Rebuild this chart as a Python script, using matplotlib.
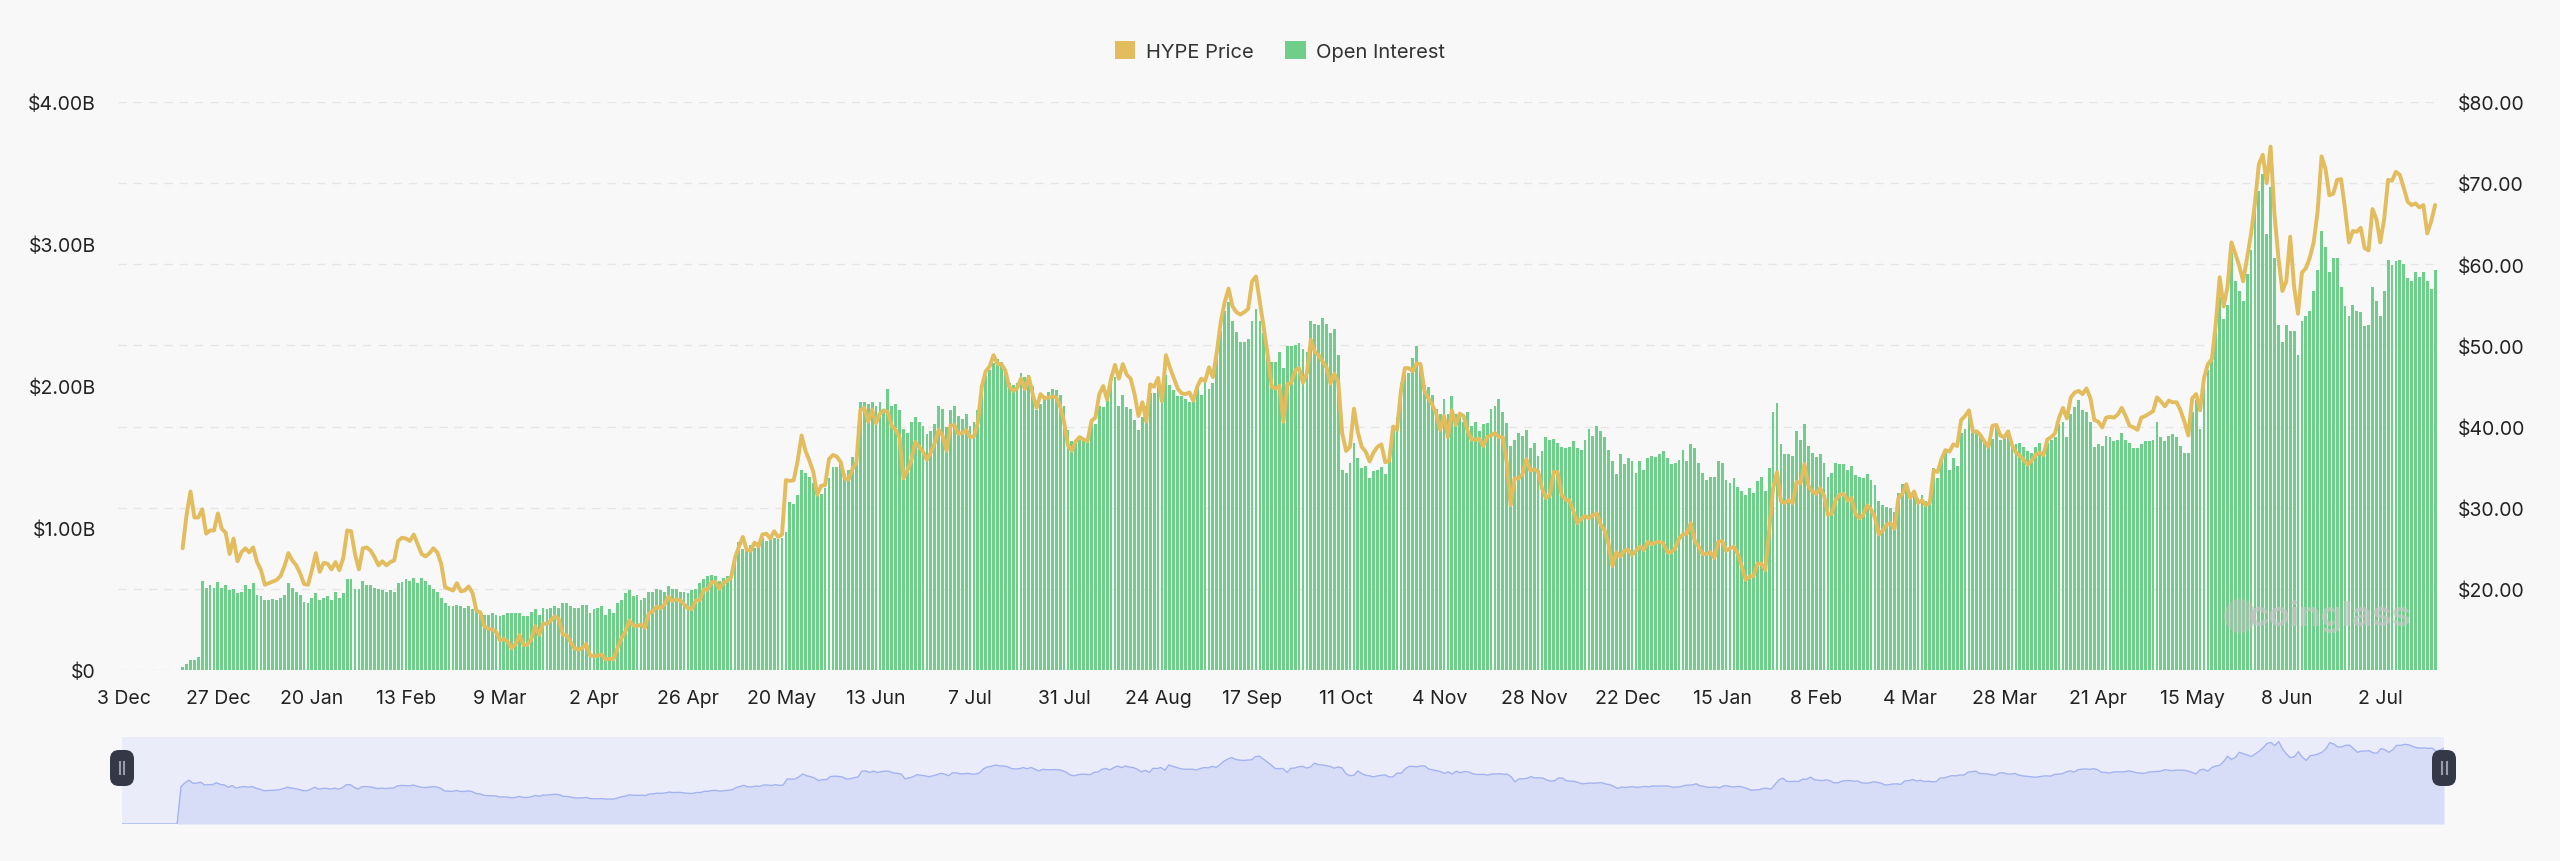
import numpy as np
import pandas as pd
import matplotlib
matplotlib.use("Agg")
import matplotlib.pyplot as plt
from matplotlib.patches import FancyBboxPatch, Patch, Ellipse

plt.rcParams["font.family"] = ["Inter", "DejaVu Sans"]

# --- data (daily) ---
first_day = "2024-12-03"
n_days = 591
data_start = 15  # first day with data: 18 Dec

# open interest, billions USD
open_interest = [
    0.02, 0.04, 0.07, 0.07, 0.09,
    0.63, 0.58, 0.60, 0.58, 0.62, 0.58, 0.60, 0.56, 0.57, 0.54,
    0.55, 0.60, 0.57, 0.61, 0.53, 0.52, 0.49, 0.49, 0.50, 0.49,
    0.51, 0.53, 0.61, 0.58, 0.55, 0.53, 0.48, 0.47, 0.51, 0.54,
    0.49, 0.51, 0.52, 0.49, 0.55, 0.51, 0.54, 0.64, 0.64, 0.57,
    0.57, 0.63, 0.60, 0.60, 0.58, 0.57, 0.56, 0.55, 0.56, 0.55,
    0.61, 0.62, 0.64, 0.63, 0.65, 0.61, 0.65, 0.63, 0.60, 0.57,
    0.55, 0.51, 0.47, 0.45, 0.45, 0.46, 0.45, 0.44, 0.45, 0.43,
    0.42, 0.40, 0.39, 0.39, 0.40, 0.39, 0.38, 0.39,
    0.40, 0.40, 0.40, 0.40, 0.38, 0.38, 0.41, 0.43, 0.39, 0.44,
    0.43, 0.44, 0.45, 0.44, 0.47, 0.47, 0.45, 0.44, 0.44, 0.46,
    0.46, 0.40, 0.43, 0.44, 0.45, 0.39, 0.43, 0.40, 0.47, 0.49,
    0.54, 0.56, 0.52, 0.53, 0.49, 0.51, 0.55, 0.55, 0.57, 0.56,
    0.55, 0.59, 0.57, 0.57, 0.55, 0.55, 0.54, 0.56, 0.57, 0.61,
    0.64, 0.66, 0.67, 0.66, 0.63, 0.65, 0.66, 0.68, 0.80, 0.90,
    0.85, 0.86, 0.88, 0.86, 0.90, 0.93, 0.91, 0.94, 0.93, 0.92,
    0.93, 0.97, 1.18, 1.17, 1.23, 1.41, 1.39, 1.36, 1.32, 1.23,
    1.24, 1.28, 1.35, 1.43, 1.43, 1.45, 1.38, 1.41, 1.50, 1.50,
    1.89, 1.89, 1.87, 1.89, 1.86, 1.89, 1.84, 1.98, 1.86, 1.87,
    1.83, 1.70, 1.67, 1.75, 1.78, 1.75, 1.72, 1.66, 1.68, 1.73,
    1.86, 1.84, 1.71, 1.83, 1.86, 1.79, 1.77, 1.80, 1.72, 1.75,
    1.83, 2.01, 2.07, 2.11, 2.16, 2.19, 2.17, 2.12, 2.02, 2.01,
    2.02, 2.09, 2.06, 2.08, 2.00, 1.83, 1.87, 1.93, 1.96, 1.98,
    1.97, 1.94, 1.86, 1.69, 1.61, 1.62, 1.62, 1.62, 1.61, 1.76,
    1.73, 1.86, 1.85, 1.94, 2.06, 2.06, 1.86, 1.94, 1.85, 1.84,
    1.76, 1.69, 1.78, 1.86, 1.95, 1.95, 2.00, 1.88, 2.08, 2.01,
    1.97, 1.93, 1.93, 1.91, 1.89, 1.93, 1.99, 1.94, 2.05, 1.98,
    2.02, 2.22, 2.39, 2.53, 2.59, 2.46, 2.38, 2.31, 2.31, 2.33,
    2.46, 2.54, 2.46, 2.37, 2.22, 2.17, 2.17, 2.24, 2.13, 2.28,
    2.28, 2.29, 2.30, 2.26, 2.24, 2.46, 2.44, 2.43, 2.48, 2.44,
    2.37, 2.40, 2.22, 1.41, 1.39, 1.46, 1.60, 1.49, 1.42, 1.44,
    1.35, 1.40, 1.41, 1.43, 1.38, 1.47, 1.72, 1.78, 2.02, 2.08,
    2.09, 2.20, 2.28, 2.14, 2.01, 1.99, 1.94, 1.84, 1.80, 1.91,
    1.80, 1.93, 1.80, 1.78, 1.75, 1.82, 1.72, 1.75, 1.68, 1.73,
    1.74, 1.84, 1.86, 1.91, 1.82, 1.74, 1.58, 1.62, 1.67, 1.65,
    1.69, 1.56, 1.60, 1.51, 1.54, 1.64, 1.62, 1.63, 1.60, 1.57,
    1.56, 1.57, 1.61, 1.56, 1.55, 1.62, 1.70, 1.65, 1.72, 1.68,
    1.64, 1.55, 1.47, 1.38, 1.52, 1.45, 1.49, 1.47, 1.39, 1.47,
    1.41, 1.49, 1.51, 1.50, 1.52, 1.54, 1.49, 1.45, 1.46, 1.48,
    1.55, 1.47, 1.59, 1.56, 1.46, 1.39, 1.34, 1.36, 1.36, 1.47,
    1.46, 1.34, 1.32, 1.35, 1.29, 1.26, 1.23, 1.28, 1.25, 1.33,
    1.36, 1.26, 1.42, 1.82, 1.88, 1.59, 1.52, 1.52, 1.51, 1.68,
    1.62, 1.73, 1.58, 1.53, 1.50, 1.52, 1.46, 1.36, 1.39, 1.46,
    1.45, 1.45, 1.41, 1.44, 1.37, 1.36, 1.35, 1.38, 1.34, 1.30,
    1.19, 1.16, 1.15, 1.14, 1.11, 1.25, 1.31, 1.31, 1.24, 1.25,
    1.21, 1.23, 1.19, 1.20, 1.42, 1.35, 1.47, 1.53, 1.41, 1.49,
    1.44, 1.67, 1.70, 1.78, 1.67, 1.67, 1.65, 1.61, 1.56, 1.63,
    1.72, 1.62, 1.64, 1.69, 1.61, 1.59, 1.60, 1.57, 1.54, 1.53,
    1.57, 1.60, 1.54, 1.60, 1.62, 1.64, 1.73, 1.75, 1.64, 1.80,
    1.85, 1.90, 1.83, 1.82, 1.75, 1.57, 1.59, 1.58, 1.65, 1.64,
    1.61, 1.62, 1.67, 1.62, 1.60, 1.56, 1.56, 1.59, 1.61, 1.61,
    1.62, 1.75, 1.64, 1.61, 1.65, 1.66, 1.64, 1.58, 1.53, 1.53,
    1.82, 1.90, 1.70, 2.00, 2.11, 2.19, 2.41, 2.63, 2.47, 2.57,
    2.94, 2.74, 2.67, 2.60, 2.79, 2.96, 3.23, 3.37, 3.49, 3.07,
    3.40, 2.90, 2.43, 2.31, 2.43, 2.39, 2.39, 2.22, 2.46, 2.49,
    2.53, 2.67, 2.82, 3.09, 2.98, 2.80, 2.90, 2.90, 2.70, 2.56,
    2.49, 2.57, 2.53, 2.52, 2.42, 2.43, 2.70, 2.60, 2.49, 2.67,
    2.89, 2.85, 2.88, 2.89, 2.86, 2.76, 2.74, 2.80, 2.77, 2.80,
    2.74, 2.68, 2.82,
]

# HYPE price, USD
hype_price = [
    25.0, 29.1, 32.0, 28.8, 28.8,
    29.8, 26.8, 27.2, 27.2, 29.3, 27.4, 26.9, 24.3, 26.2, 23.4,
    24.5, 25.0, 24.5, 25.1, 23.3, 22.3, 20.5, 20.7, 20.9, 21.1,
    21.6, 22.8, 24.4, 23.5, 22.9, 21.9, 20.6, 20.5, 22.3, 24.4,
    22.1, 23.2, 23.1, 22.4, 23.3, 22.3, 23.8, 27.2, 27.1, 24.3,
    22.4, 25.0, 25.1, 24.7, 23.9, 22.9, 23.4, 22.9, 23.3, 23.5,
    25.9, 26.3, 26.2, 25.9, 26.7, 25.5, 24.3, 24.0, 24.4, 25.0,
    24.5, 23.1, 20.2, 20.0, 19.8, 20.7, 19.7, 19.8, 20.3, 19.5,
    17.3, 17.1, 15.4, 15.1, 15.0, 14.7, 13.7, 13.8,
    13.5, 12.7, 13.2, 14.3, 13.1, 13.1, 13.8, 15.4, 14.3, 15.7,
    15.7, 16.1, 16.6, 16.3, 14.4, 14.3, 13.5, 12.7, 12.5, 12.7,
    13.2, 11.8, 11.7, 11.8, 11.9, 11.3, 11.4, 11.3, 12.7, 13.9,
    14.7, 16.1, 15.5, 15.4, 15.6, 15.2, 17.0, 17.2, 17.8, 17.6,
    18.1, 19.0, 18.5, 18.7, 18.6, 18.1, 17.6, 17.5, 18.6, 18.6,
    19.9, 19.9, 20.8, 20.9, 20.0, 20.7, 21.0, 21.4, 23.8, 25.2,
    26.4, 24.8, 24.7, 25.7, 25.2, 26.7, 26.8, 26.2, 27.1, 26.4,
    26.7, 33.4, 33.3, 33.4, 35.8, 38.9, 37.0, 35.8, 34.4, 31.6,
    32.7, 32.8, 36.0, 36.5, 36.3, 35.6, 33.6, 33.5, 34.8, 35.6,
    42.0, 42.3, 40.6, 42.1, 40.4, 41.6, 42.0, 41.8, 40.1, 39.6,
    38.7, 33.6, 34.6, 35.8, 38.1, 37.5, 36.9, 35.9, 36.8, 38.0,
    39.6, 38.9, 37.0, 40.1, 40.2, 39.1, 39.2, 39.6, 38.7, 38.8,
    40.5, 44.9, 46.8, 47.4, 48.8, 47.7, 47.7, 46.9, 44.9, 44.4,
    44.7, 45.9, 44.6, 46.1, 44.0, 42.3, 44.0, 43.5, 43.6, 43.7,
    43.6, 42.5, 40.6, 37.7, 37.0, 38.2, 38.7, 38.4, 38.2, 40.7,
    41.1, 44.0, 45.0, 43.3, 45.9, 47.6, 45.9, 47.7, 46.4, 45.9,
    44.0, 41.3, 43.0, 40.6, 45.2, 44.9, 46.0, 43.1, 48.8, 47.3,
    46.0, 44.7, 44.1, 44.0, 44.2, 43.2, 44.9, 45.9, 45.6, 47.3,
    46.1, 49.2, 52.9, 55.3, 57.0, 54.8, 54.1, 53.8, 54.1, 54.5,
    57.9, 58.5, 55.3, 52.1, 48.8, 44.9, 44.7, 45.0, 40.6, 45.2,
    45.4, 46.9, 47.2, 45.4, 46.6, 50.7, 49.2, 48.8, 48.0, 47.3,
    45.3, 46.5, 45.5, 39.2, 37.0, 37.5, 42.2, 39.3, 37.5, 36.9,
    35.7, 36.8, 37.5, 37.8, 35.6, 35.8, 40.0, 39.6, 44.4, 47.2,
    47.2, 46.8, 47.8, 47.7, 44.4, 43.5, 42.7, 41.6, 39.6, 41.3,
    38.7, 42.0, 40.2, 41.6, 41.3, 39.5, 38.4, 38.4, 38.5, 37.6,
    38.7, 38.9, 39.2, 38.7, 38.7, 35.6, 30.3, 33.6, 33.6, 34.1,
    36.0, 34.6, 34.7, 34.5, 32.4, 31.2, 31.5, 34.4, 34.4, 31.6,
    31.0, 30.9, 29.6, 28.1, 28.6, 29.0, 28.7, 29.1, 29.3, 27.9,
    27.2, 25.5, 22.8, 24.5, 24.0, 24.7, 24.8, 24.2, 24.7, 25.2,
    24.8, 25.8, 25.5, 25.7, 25.8, 25.6, 24.5, 24.5, 25.0, 26.2,
    26.7, 26.8, 28.1, 25.9, 25.2, 24.3, 24.3, 24.5, 23.8, 25.8,
    25.9, 24.7, 25.0, 25.2, 24.3, 22.8, 21.1, 21.5, 21.6, 23.1,
    23.1, 22.3, 27.2, 32.4, 34.4, 30.8, 30.6, 30.9, 30.6, 33.2,
    33.0, 35.4, 32.7, 32.0, 31.7, 32.4, 31.5, 29.1, 29.3, 31.0,
    31.6, 31.7, 30.9, 31.2, 29.3, 28.7, 29.1, 30.3, 29.8, 28.8,
    26.7, 27.2, 27.9, 28.1, 27.4, 31.2, 31.7, 32.9, 31.2, 32.0,
    30.6, 30.9, 30.3, 30.6, 34.6, 34.4, 36.0, 37.1, 36.9, 37.8,
    37.6, 40.8, 41.3, 42.0, 39.4, 39.4, 38.9, 38.1, 37.5, 40.1,
    40.2, 38.9, 38.7, 39.4, 37.7, 36.8, 36.4, 35.9, 35.3, 35.8,
    36.5, 36.8, 36.5, 38.4, 38.7, 39.2, 41.1, 42.3, 41.0, 43.6,
    44.2, 44.4, 44.0, 44.7, 43.5, 40.8, 40.6, 39.9, 41.1, 41.2,
    41.1, 41.5, 42.3, 41.3, 40.1, 39.9, 39.6, 41.1, 41.3, 41.6,
    41.9, 43.6, 43.1, 42.5, 43.2, 43.0, 43.0, 42.0, 40.6, 38.9,
    43.5, 44.0, 42.0, 46.0, 47.7, 48.3, 52.6, 58.4, 54.8, 57.2,
    62.7, 61.3, 59.8, 57.9, 60.8, 63.7, 67.5, 72.3, 73.5, 70.0,
    74.5, 66.1, 60.8, 56.7, 57.9, 63.4, 57.2, 53.9, 59.0, 59.5,
    60.8, 62.7, 66.5, 73.3, 71.8, 68.5, 68.7, 70.4, 70.5, 66.8,
    62.7, 64.1, 64.0, 64.5, 62.0, 61.7, 66.8, 65.6, 62.7, 65.6,
    70.4, 70.3, 71.4, 71.0, 69.4, 67.7, 67.3, 67.5, 67.0, 67.3,
    63.8, 65.3, 67.3,
]

oi_ticks = [0, 1, 2, 3, 4]
oi_tick_labels = ["$0", "$1.00B", "$2.00B", "$3.00B", "$4.00B"]
price_ticks = [20, 30, 40, 50, 60, 70, 80]
price_grid = [10, 20, 30, 40, 50, 60, 70, 80]

dates = pd.date_range(first_day, periods=n_days, freq="D")
tick_idx = list(range(0, n_days, 24))
tick_labels = [f"{dates[i].day} {dates[i].strftime('%b')}" for i in tick_idx]

x = np.arange(data_start, data_start + len(open_interest))

# --- colours ---
bg = "#f8f8f8"
gold = "#e3bc5e"
green = "#70ce8b"
text_col = "#222222"

W, H = 2560, 862
fig = plt.figure(figsize=(W / 100, H / 100), dpi=100, facecolor=bg)

# main panel
ax = fig.add_axes([118 / W, 1 - 671 / H, (2441 - 118) / W, (671 - 103) / H])
ax.set_facecolor(bg)
ax.set_xlim(-1.5, n_days + 0.5)
ax.set_ylim(0, 4)

# dashed grid lines follow the price axis
for p in price_grid:
    ax.axhline((p - 10) / 70 * 4, color="#e6e6e6", lw=1.0,
               linestyle=(0, (6, 5)), zorder=0)

ax.bar(x, open_interest, width=0.72, color=green, zorder=2)

ax2 = ax.twinx()
ax2.plot(x, hype_price, color=gold, lw=2.8, zorder=3,
         solid_joinstyle="round", solid_capstyle="round")
ax2.set_ylim(10, 80)

ax.set_yticks(oi_ticks)
ax.set_yticklabels(oi_tick_labels)
ax2.set_yticks(price_ticks)
ax2.set_yticklabels([f"${v:.2f}" for v in price_ticks])
ax.set_xticks(tick_idx)
ax.set_xticklabels(tick_labels)

ax.tick_params(axis="y", length=0, pad=16, labelsize=14, labelcolor=text_col)
ax2.tick_params(axis="y", length=0, pad=12, labelsize=14, labelcolor=text_col)
ax.tick_params(axis="x", length=0, pad=14, labelsize=14, labelcolor=text_col)
for a in (ax, ax2):
    for s in a.spines.values():
        s.set_visible(False)

# legend
handles = [Patch(facecolor=gold, label="HYPE Price"),
           Patch(facecolor=green, label="Open Interest")]
leg = fig.legend(handles=handles, loc="center", bbox_to_anchor=(0.5, 1 - 52 / H),
                 ncol=2, frameon=False, fontsize=14.5, handlelength=1.0,
                 handleheight=1.0, handletextpad=0.5, columnspacing=1.6)
for t in leg.get_texts():
    t.set_color("#333333")

# watermark: a faint blob for the logo plus the name
fig.patches.append(Ellipse((2240 / 100, (H - 617) / 100), 0.32, 0.34,
                           transform=fig.dpi_scale_trans, facecolor="#bdbdbd",
                           alpha=0.55, edgecolor="none", zorder=5))
fig.text(2330 / W, 1 - 617 / H, "coinglass", fontsize=25, fontweight="bold",
         color="#c6c6c6", alpha=0.7, ha="center", va="center")

# slider (data zoom) at the bottom
axs = fig.add_axes([122 / W, 1 - 825 / H, (2444 - 122) / W, (825 - 738) / H])
axs.set_facecolor("#eaedf9")
slider_lo = -16
slider_x = np.arange(n_days)
slider_y = np.concatenate([np.full(data_start, slider_lo), hype_price])
axs.fill_between(slider_x, slider_lo, slider_y, color="#d8ddf7", lw=0)
axs.plot(slider_x, slider_y, color="#a3b3ef", lw=1.0)
axs.set_xlim(0, n_days - 1)
axs.set_ylim(slider_lo, 79.5)
axs.set_xticks([])
axs.set_yticks([])
for s in axs.spines.values():
    s.set_visible(False)

# slider handles (drawn in inches)
for hx in (122, 2444):
    cx, cy = hx / 100, (H - 769) / 100
    box = FancyBboxPatch((cx - 0.09, cy - 0.15), 0.18, 0.30,
                         boxstyle="round,pad=0.03,rounding_size=0.09",
                         transform=fig.dpi_scale_trans, facecolor="#353846",
                         edgecolor="none", zorder=10)
    fig.patches.append(box)
    for dx in (-0.025, 0.025):
        fig.lines.append(plt.Line2D([cx + dx, cx + dx], [cy - 0.06, cy + 0.06],
                                    transform=fig.dpi_scale_trans,
                                    color="#9a9cab", lw=1.5, zorder=11))

fig.savefig("out.png", dpi=100, facecolor=bg)
